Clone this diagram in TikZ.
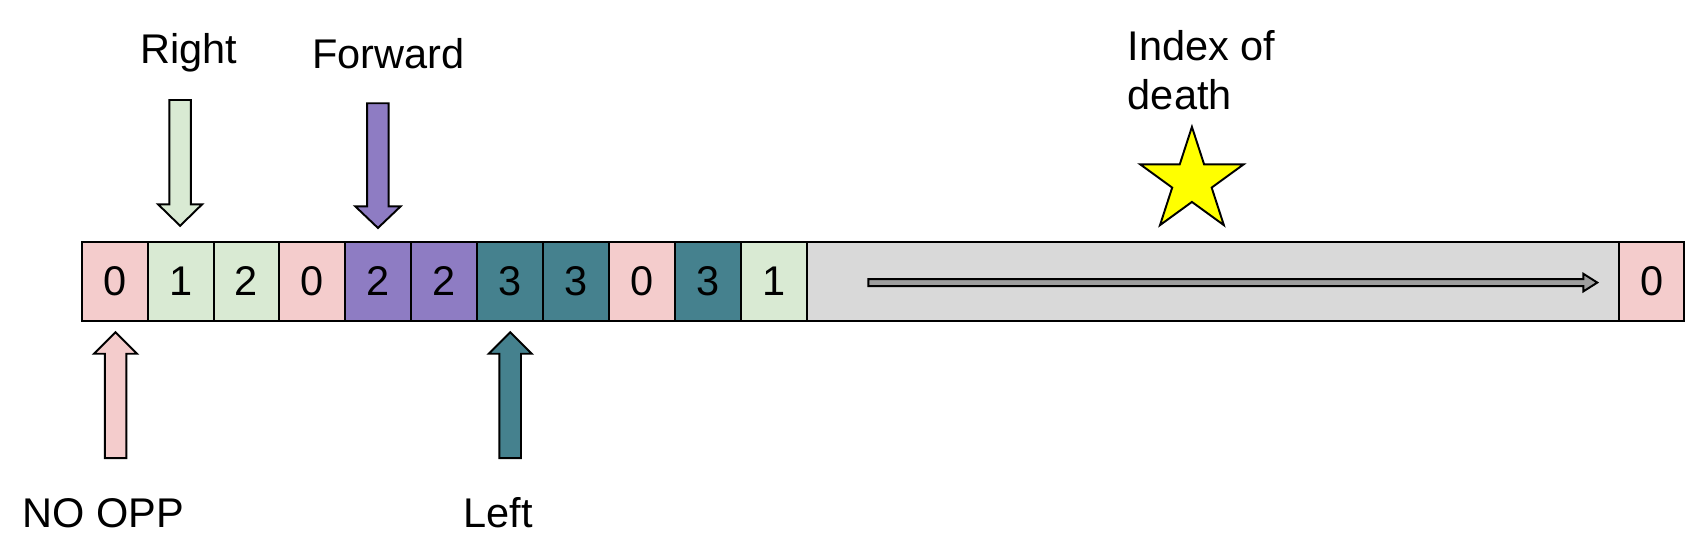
\documentclass[tikz,border=0pt]{standalone}
\usepackage{fontspec}
\setmainfont{Liberation Sans}
\usetikzlibrary{shapes.geometric}
\definecolor{pinkc}{HTML}{F4CCCC}
\definecolor{greenc}{HTML}{D9EAD3}
\definecolor{purplec}{HTML}{8E7CC3}
\definecolor{tealc}{HTML}{45818E}
\definecolor{grayc}{HTML}{D9D9D9}
\definecolor{arrowgray}{HTML}{9E9E9E}
\definecolor{starc}{HTML}{FFFF00}
\begin{document}
\begin{tikzpicture}[x=0.5pt,y=-0.5pt,
  txt/.style={font=\fontsize{19.3}{22.5}\selectfont},
  cell/.style={txt, draw=black, line width=0.9pt, minimum width=30.65pt, minimum height=36.75pt, inner sep=0pt},
  blk/.style={draw=black, line width=0.9pt, line join=miter},
  lbl/.style={txt, inner sep=0pt}]
\useasboundingbox (0,0) rectangle (1568,510);
% cells
\node[cell, fill=pinkc]   (c1)  at (106.65,261.5) {0};
\node[cell, fill=greenc]  (c2)  at (167.95,261.5) {1};
\node[cell, fill=greenc]  (c3)  at (229.25,261.5) {2};
\node[cell, fill=pinkc]   (c4)  at (290.55,261.5) {0};
\node[cell, fill=purplec] (c5)  at (351.85,261.5) {2};
\node[cell, fill=purplec] (c6)  at (413.15,261.5) {2};
\node[cell, fill=tealc]   (c7)  at (474.45,261.5) {3};
\node[cell, fill=tealc]   (c8)  at (535.75,261.5) {3};
\node[cell, fill=pinkc]   (c9)  at (597.05,261.5) {0};
\node[cell, fill=tealc]   (c10) at (658.35,261.5) {3};
\node[cell, fill=greenc]  (c11) at (719.65,261.5) {1};
\node[cell, fill=grayc, minimum width=377.85pt] (gap) at (1128.15,261.5) {};
\node[cell, fill=pinkc, minimum width=30.25pt] (c12) at (1536.25,261.5) {0};
% arrow inside the grey span
\draw[blk, fill=arrowgray] (807.6,259.5) -- (1472.5,259.5) -- (1472.5,254.6) -- (1485.5,262.8)
  -- (1472.5,271) -- (1472.5,266.1) -- (807.6,266.1) -- cycle;
% star
\node[star, star points=5, star point ratio=2.618, minimum size=50.5pt, inner sep=0pt,
  draw=black, line width=0.9pt, fill=starc] (star) at (1108.5,168.5) {};
% block arrows
\draw[blk, fill=greenc] (157.5,93) -- (177.5,93) -- (177.5,190) -- (188,190) -- (167.5,210)
  -- (147,190) -- (157.5,190) -- cycle;
\draw[blk, fill=purplec] (341.5,96) -- (361.5,96) -- (361.5,192) -- (372.5,192) -- (351.5,212)
  -- (330.5,192) -- (341.5,192) -- cycle;
\draw[blk, fill=pinkc] (97.5,426) -- (117.5,426) -- (117.5,329) -- (127.5,329) -- (107.5,309)
  -- (87.5,329) -- (97.5,329) -- cycle;
\draw[blk, fill=tealc] (464.5,426) -- (484.5,426) -- (484.5,329) -- (494.5,329) -- (474.5,309)
  -- (454.5,329) -- (464.5,329) -- cycle;
% labels
\node[lbl, anchor=base] (lright) at (175.5,59) {Right};
\node[lbl, anchor=base] (lfwd) at (361,64) {Forward};
\node[lbl, anchor=north west, align=left] (lidx) at (1048.5,28) {Index of\\death};
\node[lbl, anchor=base] (lnoopp) at (96,491) {NO OPP};
\node[lbl, anchor=base] (lleft) at (463.5,491) {Left};
\end{tikzpicture}
\end{document}
